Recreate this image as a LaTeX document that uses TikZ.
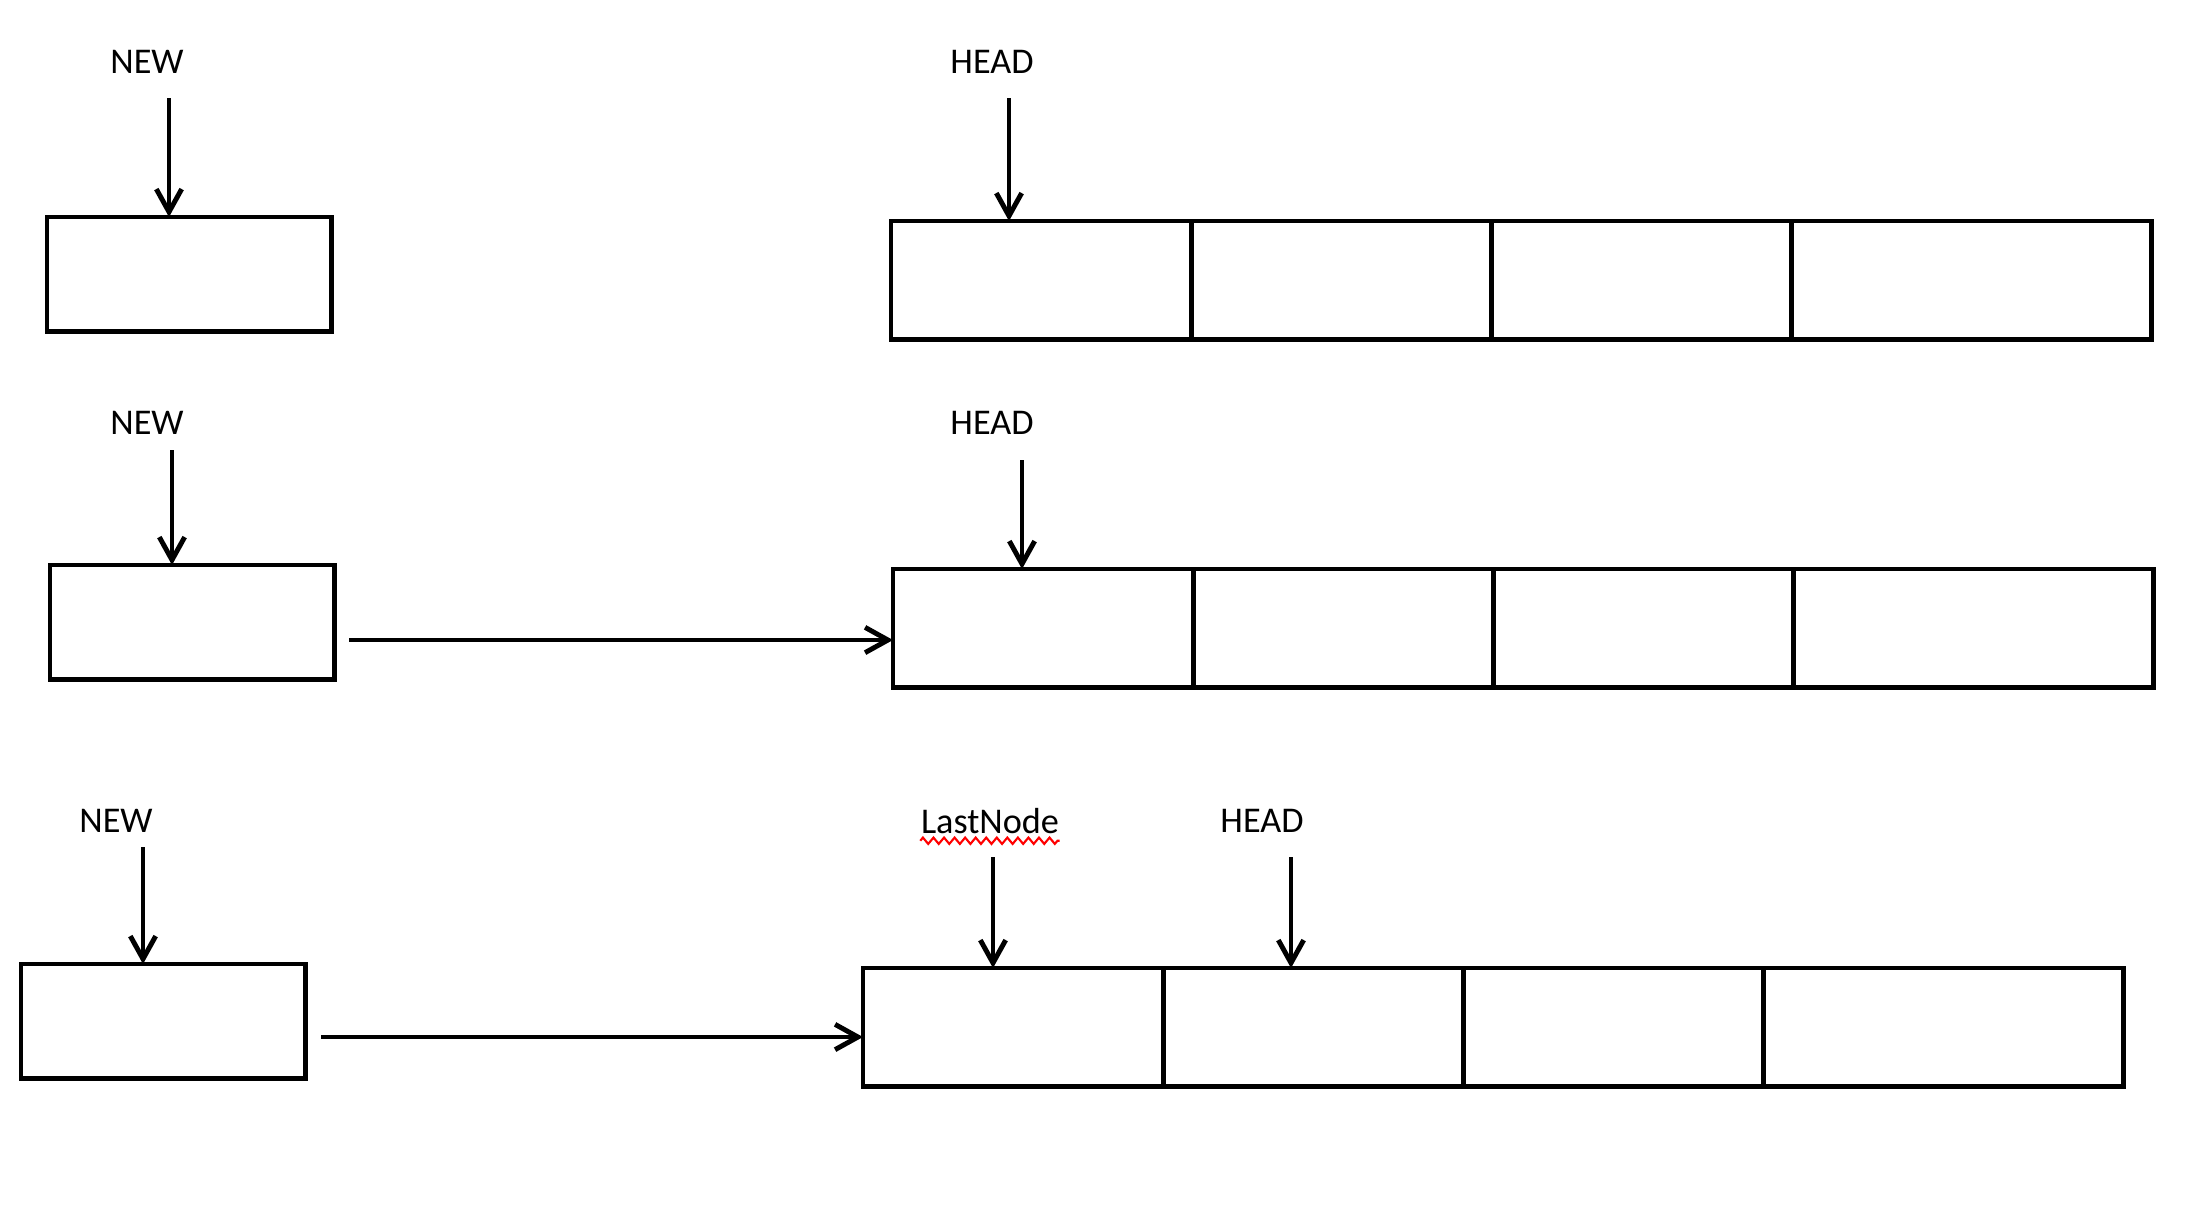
\documentclass[tikz,border=0pt]{standalone}
\usepackage{fontspec}
\setmainfont{Carlito}
\usetikzlibrary{arrows.meta}
\usetikzlibrary{decorations.pathmorphing}
\tikzset{box/.style={draw, line width=1.4pt, inner sep=0pt, outer sep=0pt, anchor=north west,
   minimum width=2.84cm, minimum height=1.145cm},
 cell/.style={draw, line width=1.4pt, inner sep=0pt, outer sep=0pt, anchor=north west,
   minimum height=1.185cm, minimum width=3cm},
 lastcell/.style={cell, minimum width=3.6cm},
 ptr/.style={line width=1.4pt, -{Straight Barb[length=6.5pt, width=7.2pt, line width=1.4pt]}},
 lbl/.style={font=\fontsize{10.3}{12}\selectfont, inner sep=0pt},
 }

\begin{document}
\begin{tikzpicture}[x=0.01cm, y=-0.01cm]
        \useasboundingbox (0,0) rectangle (2208,1220);
        % first row
        \node [lbl] (new1) at (147, 62) {NEW};
        \node [lbl] (head1) at (992, 62) {HEAD};
        \node [box] (n1) at (47, 217) {};
        \node [cell] (l1a) at (891, 221) {};
        \node [cell] (l1b) at (l1a.north east) {};
        \node [cell] (l1c) at (l1b.north east) {};
        \node [lastcell] (l1d) at (l1c.north east) {};
        \coordinate (p1) at (169, 98);
        \coordinate (q1) at (1009, 98);
        \draw [ptr] (p1) -- (p1 |- n1.north);
        \draw [ptr] (q1) -- (q1 |- l1a.north);
        % second row
        \node [lbl] (new2) at (147, 423) {NEW};
        \node [lbl] (head2) at (992, 423) {HEAD};
        \node [box] (n2) at (50, 565) {};
        \node [cell] (l2a) at (893, 569) {};
        \node [cell] (l2b) at (l2a.north east) {};
        \node [cell] (l2c) at (l2b.north east) {};
        \node [lastcell] (l2d) at (l2c.north east) {};
        \coordinate (p2) at (172, 450);
        \coordinate (q2) at (1022, 460);
        \coordinate (s2) at (349, 640);
        \draw [ptr] (p2) -- (p2 |- n2.north);
        \draw [ptr] (q2) -- (q2 |- l2a.north);
        \draw [ptr] (s2) -- (s2 -| l2a.west);
        % third row
        \node [lbl] (new3) at (116, 821) {NEW};
        \node [lbl] (lastn) at (990, 821) {LastNode};
        \node [lbl] (head3) at (1262, 821) {HEAD};
        \draw [red, line width=0.6pt, decorate,
            decoration={zigzag, amplitude=0.9pt, segment length=3pt}]
            ([yshift=-1.8pt]lastn.south west) -- ([yshift=-1.8pt]lastn.south east);
        \node [box] (n3) at (21, 964) {};
        \node [cell] (l3a) at (863, 968) {};
        \node [cell] (l3b) at (l3a.north east) {};
        \node [cell] (l3c) at (l3b.north east) {};
        \node [lastcell] (l3d) at (l3c.north east) {};
        \coordinate (p3) at (143, 847);
        \coordinate (q3) at (993, 857);
        \coordinate (r3) at (1291, 857);
        \coordinate (s3) at (321, 1037);
        \draw [ptr] (p3) -- (p3 |- n3.north);
        \draw [ptr] (q3) -- (q3 |- l3a.north);
        \draw [ptr] (r3) -- (r3 |- l3b.north);
        \draw [ptr] (s3) -- (s3 -| l3a.west);
    \end{tikzpicture}
\end{document}
